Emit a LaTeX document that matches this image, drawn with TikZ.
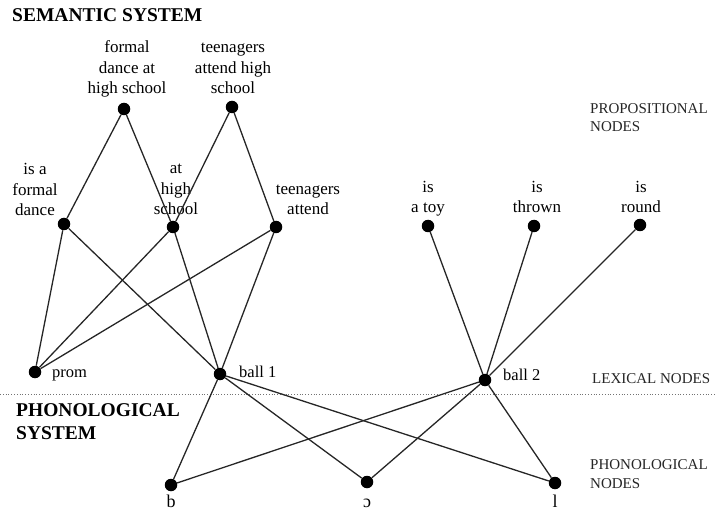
\documentclass[tikz,border=0pt]{standalone}
\usepackage{fontspec}
\setmainfont{Liberation Serif}
\begin{document}
\begin{tikzpicture}[x=1pt,y=-1pt,
  dot/.style={circle,fill=black,inner sep=0pt,minimum size=12.5pt},
  edge/.style={line width=1.3pt,black!85},
  lbl/.style={inner sep=0pt,anchor=base,align=center,font=\fontsize{17}{20.5}\selectfont},
  side/.style={inner sep=0pt,anchor=base west,font=\fontsize{16.5}{18}\selectfont},
  caplbl/.style={inner sep=0pt,anchor=base west,align=left,font=\fontsize{15}{18.5}\selectfont,black!85},
  titlelbl/.style={inner sep=0pt,anchor=base west,align=left,font=\fontsize{19.5}{23}\selectfont\bfseries},
  phon/.style={inner sep=0pt,anchor=base,font=\fontsize{18}{20}\selectfont}]
\useasboundingbox (0,0) rectangle (715,513);
% dots
\node[dot] (fd) at (124,109) {};
\node[dot] (ta) at (232,107) {};
\node[dot] (isfd) at (64,224) {};
\node[dot] (ahs) at (173,227) {};
\node[dot] (tatt) at (276,227) {};
\node[dot] (toy) at (428,226) {};
\node[dot] (thr) at (534,226) {};
\node[dot] (rnd) at (640,225) {};
\node[dot] (prom) at (35,372) {};
\node[dot] (b1) at (220,374) {};
\node[dot] (b2) at (485,380) {};
\node[dot] (pb) at (171,485) {};
\node[dot] (po) at (367,482) {};
\node[dot] (pl) at (555,483) {};
% labels
\node[lbl] (fdT) at (127,94) {formal\\dance at\\high school};
\node[lbl] (taT) at (233,94) {teenagers\\attend high\\school};
\node[lbl] (isfdT) at (35,216) {is a\\formal\\dance};
\node[lbl] (ahsT) at (176,215) {at\\high\\school};
\node[lbl] (tattT) at (308,215) {teenagers\\attend};
\node[lbl] (toyT) at (428,213) {is\\a toy};
\node[lbl] (thrT) at (537,213) {is\\thrown};
\node[lbl] (rndT) at (641,213) {is\\round};
\node[side] (promT) at (52,377) {prom};
\node[side] (b1T) at (239,377) {ball 1};
\node[side] (b2T) at (503,380) {ball 2};
\node[phon] (pbT) at (171,507) {b};
\node[phon] (poT) at (367,507) {ɔ};
\node[phon] (plT) at (555,507) {l};
\node[titlelbl] (sem) at (12,22) {SEMANTIC SYSTEM};
\node[titlelbl] (phs) at (16,439) {PHONOLOGICAL\\SYSTEM};
\node[caplbl] (propN) at (590,132) {PROPOSITIONAL\\NODES};
\node[caplbl] (lexN) at (592,383) {LEXICAL NODES};
\node[caplbl] (phonN) at (590,488) {PHONOLOGICAL\\NODES};
% separator
\coordinate (sepL) at (0,394);
\coordinate (sepR) at (715,394);
\draw[black!55,line width=0.8pt,dotted] (sepL) -- (sepR);
% edges
\draw[edge] (fd) -- (isfd);
\draw[edge] (fd) -- (ahs);
\draw[edge] (ta) -- (ahs);
\draw[edge] (ta) -- (tatt);
\draw[edge] (isfd) -- (prom);
\draw[edge] (isfd) -- (b1);
\draw[edge] (ahs) -- (prom);
\draw[edge] (ahs) -- (b1);
\draw[edge] (tatt) -- (prom);
\draw[edge] (tatt) -- (b1);
\draw[edge] (toy) -- (b2);
\draw[edge] (thr) -- (b2);
\draw[edge] (rnd) -- (b2);
\draw[edge] (b1) -- (pb);
\draw[edge] (b1) -- (po);
\draw[edge] (b1) -- (pl);
\draw[edge] (b2) -- (pb);
\draw[edge] (b2) -- (po);
\draw[edge] (b2) -- (pl);
\end{tikzpicture}
\end{document}
